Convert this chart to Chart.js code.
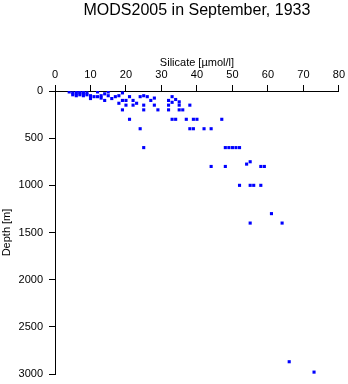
<!DOCTYPE html>
<html>
<head>
<meta charset="utf-8">
<script src="https://cdn.jsdelivr.net/npm/chart.js@4"></script>
<style>
  html, body { margin: 0; padding: 0; background: #fff; }
  canvas { display: block; }
</style>
</head>
<body>
<canvas id="profile" width="348" height="384"></canvas>
<script>
// silicate profile, one cast per point
const silicate = [4, 5, 5, 6, 6, 6, 7, 7, 7, 8, 8, 8, 9, 9,
  10, 10, 11, 12, 12, 13, 13, 14, 14, 15, 15, 16, 17, 18, 18, 19, 19, 19,
  20, 20, 21, 21, 22, 22, 23, 24, 24, 25, 25, 25, 25, 26, 27, 28, 28, 29,
  32, 32, 32, 33, 33, 34, 33, 34, 35, 35, 35, 36, 37, 38, 38, 39, 39, 40,
  42, 44, 47, 44, 48, 48, 49, 50, 51, 52, 52, 54, 55, 55, 56, 58, 59, 58,
  61, 55, 64, 66, 73];
const depth = [10, 20, 40, 10, 30, 50, 10, 20, 40, 10, 30, 50, 20, 40,
  50, 80, 60, 10, 60, 50, 75, 30, 100, 10, 50, 80, 60, 50, 130, 20, 100, 200,
  100, 150, 60, 300, 100, 150, 130, 60, 400, 50, 150, 200, 600, 60, 100, 75, 150, 200,
  100, 150, 200, 60, 300, 90, 120, 300, 115, 150, 200, 200, 300, 150, 400, 300, 400, 300,
  400, 400, 300, 800, 800, 600, 600, 600, 600, 600, 1000, 775, 750, 1000, 1000, 800, 800, 1000,
  1300, 1400, 1400, 2870, 2980];
const xTicks = [0, 10, 20, 30, 40, 50, 60, 70, 80];
const yTicks = [0, 500, 1000, 1500, 2000, 2500, 3000];

const points = silicate.map((s, i) => ({ x: s, y: depth[i] }));
const FONT = 'Liberation Sans, Arial, Helvetica, sans-serif';

new Chart('profile', {
  type: 'scatter',
  data: {
    datasets: [
      {
        data: points,
        pointStyle: 'rect',
        pointRadius: 2.2,
        pointHoverRadius: 2.2,
        borderWidth: 0,
        backgroundColor: '#0000ff',
      },
    ],
  },
  options: {
    responsive: false,
    animation: false,
    layout: { padding: { left: 0, right: 9, top: 0, bottom: 10 } },
    plugins: {
      legend: { display: false },
      tooltip: { enabled: false },
      title: {
        display: true,
        text: 'MODS2005 in September, 1933',
        fullSize: false,
        color: '#000',
        font: { family: FONT, size: 16, weight: 'normal' },
        padding: { top: 1, bottom: 35.8 },
      },
    },
    scales: {
      x: {
        type: 'linear',
        position: 'top',
        min: 0,
        max: 80,
        afterBuildTicks: (scale) => { scale.ticks = xTicks.map((v) => ({ value: v })); },
        afterFit: (scale) => { scale.height = 35; },
        title: {
          display: true,
          text: 'Silicate [µmol/l]',
          color: '#000',
          font: { family: FONT, size: 11 },
          padding: { top: 0, bottom: 0 },
        },
        ticks: { color: '#000', font: { family: FONT, size: 11 }, padding: 3, maxRotation: 0,
          callback: (v) => String(v) },
        grid: { drawOnChartArea: false, tickLength: 6, color: '#000' },
        border: { color: '#000', width: 1 },
      },
      y: {
        type: 'linear',
        reverse: true,
        min: 0,
        max: 3000,
        afterBuildTicks: (scale) => { scale.ticks = yTicks.map((v) => ({ value: v })); },
        afterFit: (scale) => {
          scale.width = 55;
          scale.paddingTop = 0;
          scale.paddingBottom = 0;
        },
        title: {
          display: true,
          text: 'Depth [m]',
          color: '#000',
          font: { family: FONT, size: 11 },
          padding: { top: 0, bottom: 0 },
        },
        ticks: { color: '#000', font: { family: FONT, size: 11 }, padding: 6,
          callback: (v) => String(v) },
        grid: { drawOnChartArea: false, tickLength: 6, color: '#000' },
        border: { color: '#000', width: 1 },
      },
    },
  },
});
</script>
</body>
</html>
